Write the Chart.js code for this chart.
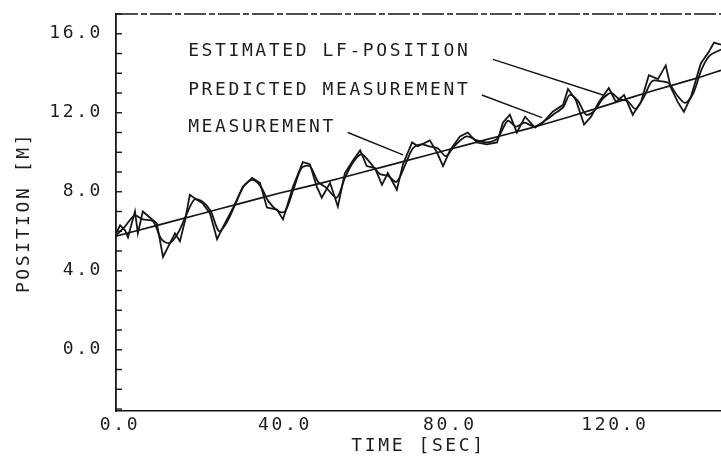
<!DOCTYPE html>
<html>
<head>
<meta charset="utf-8">
<script src="https://cdn.jsdelivr.net/npm/chart.js@4.4.1/dist/chart.umd.min.js"></script>
<style>
  html, body { margin: 0; padding: 0; background: #fff; }
  #wrap { width: 721px; height: 457px; }
</style>
</head>
<body>
<div id="wrap"><canvas id="plot"></canvas></div>
<script>
// time [sec], position [m]
var estimated = [[0, 5.75], [10, 6.3], [20, 6.85], [30, 7.4], [40, 7.95], [50, 8.45], [60, 9.0],
  [70, 9.55], [80, 10.1], [90, 10.65], [100, 11.2], [110, 11.8], [120, 12.45], [130, 13.1],
  [140, 13.7], [146.7, 14.15]];

var predicted = [[0, 5.8], [2, 6.2], [4.5, 6.8], [6.5, 6.6], [9, 6.5], [11, 5.6], [13, 5.4], [15, 5.9],
  [17, 6.8], [19, 7.6], [21, 7.5], [23, 7.0], [25, 6.0], [27, 6.5], [29, 7.4], [31, 8.3], [33, 8.6],
  [35, 8.3], [37, 7.5], [39.5, 7.0], [41, 7.0], [43, 8.1], [45, 9.2], [47, 9.3], [49, 8.5], [51, 8.2],
  [53.5, 7.7], [55.5, 8.7], [57.5, 9.5], [59.5, 9.9], [61.5, 9.5], [64, 8.9], [66, 8.8], [68, 8.5],
  [70, 9.3], [72, 10.2], [74, 10.4], [76, 10.3], [78, 10.2], [80, 9.8], [82, 10.3], [85, 10.8],
  [87.5, 10.6], [90, 10.5], [92.5, 10.7], [95, 11.6], [97, 11.3], [99, 11.5], [101.5, 11.3],
  [104, 11.6], [106, 11.9], [108.5, 12.3], [110, 12.9], [112, 12.6], [114, 11.9], [116, 12.1],
  [118, 12.7], [120, 13.0], [122, 12.7], [124, 12.6], [126, 12.2], [128, 12.8], [130, 13.6],
  [132, 13.6], [134, 13.5], [136, 12.9], [138, 12.5], [140, 13.0], [142, 14.2], [144, 14.9],
  [146.7, 15.2]];

var measured = [[0, 5.9], [1.0, 6.3], [2.2, 6.05], [2.9, 5.7], [4.6, 7.0], [5.3, 5.9], [6.5, 7.0],
  [8.2, 6.7], [9.9, 6.4], [11.4, 4.7], [12.6, 5.2], [14.3, 5.9], [15.5, 5.5], [16.7, 6.5],
  [17.9, 7.85], [19.6, 7.6], [21.1, 7.4], [22.8, 6.9], [24.5, 5.6], [25.9, 6.2], [28.4, 7.2],
  [30.8, 8.25], [33.0, 8.7], [34.9, 8.45], [36.6, 7.2], [39.0, 7.1], [40.5, 6.6], [42.9, 8.25],
  [45.3, 9.5], [47.0, 9.4], [48.7, 8.25], [49.9, 7.7], [51.9, 8.45], [53.8, 7.25], [55.5, 8.95],
  [57.5, 9.6], [59.2, 10.1], [60.8, 9.3], [62.8, 9.2], [64.5, 8.35], [65.9, 8.95], [68.1, 8.1],
  [69.6, 9.4], [71.8, 10.5], [73.2, 10.3], [76.1, 10.6], [77.8, 10.0], [79.3, 9.3], [81.0, 10.1],
  [83.4, 10.8], [85.3, 11.0], [87.5, 10.5], [89.9, 10.4], [92.4, 10.5], [93.8, 11.5], [95.5, 11.9],
  [97.2, 11.0], [99.2, 11.8], [101.6, 11.25], [103.5, 11.5], [105.9, 12.05], [108.4, 12.4],
  [109.6, 13.2], [111.5, 12.65], [113.5, 11.4], [115.2, 11.8], [117.1, 12.55], [119.5, 13.25],
  [121.2, 12.55], [123.2, 12.9], [125.3, 11.9], [127.3, 12.55], [129.2, 13.9], [131.4, 13.7],
  [133.3, 14.4], [134.5, 13.3], [136.2, 12.55], [137.7, 12.05], [139.4, 12.8], [141.8, 14.5],
  [143.8, 15.1], [145.0, 15.55], [146.7, 15.45]];

var xTicks = [0, 40, 80, 120];
var yTicks = [0, 4, 8, 12, 16];

// text labels and their leader lines, in data units
var labels = [
  { text: "ESTIMATED LF-POSITION", at: [17.5, 15.1], from: [91.4, 14.7], to: [118.1, 12.9] },
  { text: "PREDICTED MEASUREMENT", at: [17.5, 13.15], from: [88.7, 12.9], to: [103.3, 11.75] },
  { text: "MEASUREMENT", at: [17.5, 11.25], from: [56.2, 11.0], to: [69.6, 9.87] }
];

var ink = "#161616";
var textInk = "#1e1e1e";
var font = { family: "'DejaVu Sans Mono', 'Liberation Mono', monospace", size: 18 };

function toXY(arr) {
  return arr.map(function (p) { return { x: p[0], y: p[1] }; });
}

var plotter = {
  id: "plotter",
  beforeDraw: function (chart) {
    chart.ctx.letterSpacing = "2.6px";
  },
  afterDraw: function (chart) {
    var ctx = chart.ctx, area = chart.chartArea;
    var xs = chart.scales.x, ys = chart.scales.y;
    ctx.save();
    ctx.strokeStyle = ink;
    ctx.lineWidth = 1.4;

    // inward minor ticks on the y axis
    ys.ticks.forEach(function (t) {
      var py = ys.getPixelForValue(t.value);
      ctx.beginPath();
      ctx.moveTo(area.left, py);
      ctx.lineTo(area.left + 6, py);
      ctx.stroke();
    });

    // dashed top frame
    ctx.setLineDash([22, 3, 6, 3]);
    ctx.beginPath();
    ctx.moveTo(area.left, area.top);
    ctx.lineTo(area.right, area.top);
    ctx.stroke();
    ctx.setLineDash([]);

    // labels and leaders
    ctx.fillStyle = textInk;
    ctx.font = font.size + "px " + font.family;
    ctx.textAlign = "left";
    ctx.textBaseline = "middle";
    ctx.lineWidth = 1.4;
    labels.forEach(function (l) {
      ctx.fillText(l.text, xs.getPixelForValue(l.at[0]), ys.getPixelForValue(l.at[1]));
      ctx.beginPath();
      ctx.moveTo(xs.getPixelForValue(l.from[0]), ys.getPixelForValue(l.from[1]));
      ctx.lineTo(xs.getPixelForValue(l.to[0]), ys.getPixelForValue(l.to[1]));
      ctx.stroke();
    });
    ctx.restore();
  }
};

var chart = new Chart(document.getElementById("plot"), {
  type: "scatter",
  data: {
    datasets: [
      { label: "ESTIMATED LF-POSITION", data: toXY(estimated), showLine: true, tension: 0.2,
        borderColor: ink, borderWidth: 1.7, pointRadius: 0 },
      { label: "PREDICTED MEASUREMENT", data: toXY(predicted), showLine: true, tension: 0.3,
        borderColor: ink, borderWidth: 1.8, pointRadius: 0 },
      { label: "MEASUREMENT", data: toXY(measured), showLine: true, tension: 0,
        borderColor: ink, borderWidth: 1.8, pointRadius: 0 }
    ]
  },
  options: {
    responsive: true,
    maintainAspectRatio: false,
    animation: false,
    layout: { padding: { top: 14, left: 0, right: 0, bottom: 0 } },
    plugins: { legend: { display: false }, tooltip: { enabled: false } },
    scales: {
      x: {
        type: "linear",
        min: 0,
        max: 146.7,
        afterFit: function (s) { s.height = 46; s.paddingLeft = 0; s.paddingRight = 0; },
        afterBuildTicks: function (s) {
          s.ticks = xTicks.map(function (v) { return { value: v }; });
        },
        ticks: {
          autoSkip: false,
          maxRotation: 0,
          padding: 4,
          labelOffset: 4,
          color: textInk,
          font: font,
          callback: function (v) { return Number(v).toFixed(1); }
        },
        grid: { display: false, drawTicks: false },
        border: { display: true, color: ink, width: 1.4, dash: [20, 3, 6, 3] },
        title: { display: true, text: "TIME [SEC]", color: textInk, font: font,
          padding: { top: 0, bottom: 0 } }
      },
      y: {
        type: "linear",
        min: -3.1,
        max: 17,
        afterFit: function (s) { s.width = 116; s.paddingTop = 0; s.paddingBottom = 0; },
        ticks: {
          stepSize: 1,
          includeBounds: false,
          autoSkip: false,
          padding: 13,
          color: textInk,
          font: font,
          callback: function (v) { return yTicks.indexOf(v) >= 0 ? Number(v).toFixed(1) : ""; }
        },
        grid: { display: false, drawTicks: false },
        border: { display: true, color: ink, width: 1.8 },
        title: { display: true, text: "POSITION [M]", color: textInk, font: font,
          padding: { top: 14, bottom: 0 } }
      }
    }
  },
  plugins: [plotter]
});
</script>
</body>
</html>
